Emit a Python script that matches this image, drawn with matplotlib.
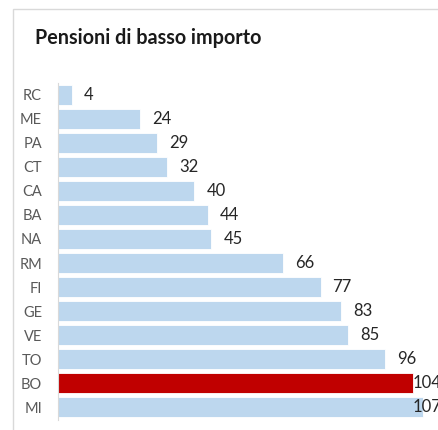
import matplotlib.pyplot as plt
from matplotlib.patches import Rectangle

# Dati
citta = ['RC', 'ME', 'PA', 'CT', 'CA', 'BA', 'NA', 'RM', 'FI', 'GE', 'VE', 'TO', 'BO', 'MI']
valori = [4, 24, 29, 32, 40, 44, 45, 66, 77, 83, 85, 96, 104, 107]
evidenziata = 'BO'

plt.rcParams['font.family'] = ['Lato', 'DejaVu Sans']

fig = plt.figure(figsize=(4.39, 4.30), dpi=100)

# cornice del grafico (tagliata a destra e in basso)
fig.patches.append(Rectangle((13 / 439, -0.1), 1.2, (430 - 9) / 430 + 0.1,
                             transform=fig.transFigure, fill=False,
                             edgecolor='#d9d9d9', linewidth=1))

fig.text(35 / 439, 1 - 38 / 430, 'Pensioni di basso importo', fontsize=14.2,
         fontweight='bold', color='#1a1a1a', va='center', ha='left')

ax = fig.add_axes([58 / 439, 10.5 / 430, 381 / 439, 337 / 430])

colori = ['#c00000' if c == evidenziata else '#bdd7ee' for c in citta]
ax.barh(range(len(citta)), valori, height=0.83, color=colori,
        edgecolor='white', linewidth=0.6)

for i, v in enumerate(valori):
    # Excel tiene le etichette dentro l'area del grafico
    ax.text(min(v + 3.5, 104.0), i, str(v), va='center', ha='left',
            fontsize=12, color='#262626', clip_on=False)

ax.set_xlim(0, 381 / 3.41)
ax.set_ylim(len(citta) - 0.5, -0.5)
ax.set_yticks(range(len(citta)))
ax.set_yticklabels(citta, fontsize=10.5, color='#595959')
ax.set_xticks([])
ax.tick_params(axis='y', length=0, pad=11.5)
for lato in ['top', 'right', 'bottom']:
    ax.spines[lato].set_visible(False)
ax.spines['left'].set_color('#d9d9d9')
ax.patch.set_alpha(0)

fig.savefig('out.png', dpi=100)
